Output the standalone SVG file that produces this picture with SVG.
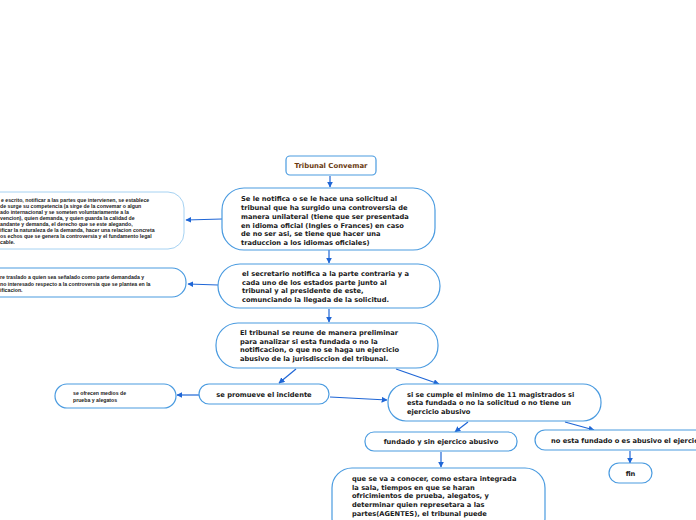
<svg xmlns="http://www.w3.org/2000/svg" width="696" height="520" viewBox="0 0 696 520">
<defs>
<marker id="ah" viewBox="0 0 10 10" refX="9" refY="5" markerWidth="5" markerHeight="5" orient="auto"><path d="M0,0 L10,5 L0,10 z" fill="#1f66d6"/></marker>
<style>
.n{fill:#fff;stroke:#4a9be0;stroke-width:1.2}
.nl{fill:#fff;stroke:#a6d2f2;stroke-width:1}
.t{font-family:"DejaVu Sans",Verdana,sans-serif;font-weight:bold;font-size:6.7px;fill:#1a1a1a}
.s{font-family:"Liberation Sans",Arial,sans-serif;font-weight:bold;font-size:5.2px;fill:#1a1a1a}
.c{fill:none;stroke:#1f66d6;stroke-width:1.2;marker-end:url(#ah)}
</style>
</defs>
<rect width="696" height="520" fill="#fff"/>
<g id="connectors">
<line class="c" x1="330" y1="176" x2="330" y2="187"/>
<line class="c" x1="222" y1="219" x2="186" y2="220"/>
<line class="c" x1="329" y1="250" x2="329" y2="263"/>
<line class="c" x1="218" y1="285" x2="188" y2="284"/>
<line class="c" x1="329" y1="309" x2="329" y2="322"/>
<line class="c" x1="296" y1="369" x2="279" y2="383"/>
<line class="c" x1="396" y1="369" x2="439" y2="384"/>
<line class="c" x1="199" y1="395" x2="177" y2="395"/>
<line class="c" x1="330" y1="397" x2="387" y2="400"/>
<line class="c" x1="468" y1="422" x2="455" y2="432"/>
<line class="c" x1="565" y1="422" x2="594" y2="430"/>
<line class="c" x1="630" y1="451" x2="630" y2="463"/>
<line class="c" x1="441" y1="452" x2="441" y2="467"/>
</g>
<g id="n1">
<rect class="n" x="286" y="156" width="90" height="19" rx="4"/>
<text x="331" y="168" text-anchor="middle" style="font-family:'DejaVu Sans',sans-serif;font-weight:bold;font-size:6.9px;fill:#6b3b12">Tribunal Convemar</text>
</g>
<g id="n2">
<rect class="n" x="222" y="188" width="213" height="62" rx="22"/>
<text class="t"><tspan x="241" y="201">Se le notifica o se le hace una solicitud al</tspan><tspan x="241" y="210">tribunal que ha surgido una controversia de</tspan><tspan x="241" y="218.8">manera unilateral (tiene que ser presentada</tspan><tspan x="241" y="227.6">en idioma oficial (Ingles o Frances) en caso</tspan><tspan x="241" y="236.4">de no ser asi, se tiene que hacer una</tspan><tspan x="241" y="245.2">traduccion a los idiomas oficiales)</tspan></text>
</g>
<g id="n3">
<rect class="nl" x="-30" y="192" width="214" height="57" rx="16"/>
<text class="s"><tspan x="1" y="202">e escrito, notificar a las partes que intervienen, se establece</tspan><tspan x="0" y="208">de surge su competencia (a sirge de la convemar o algun</tspan><tspan x="0" y="214">ado internacional y se someten voluntariamente a la</tspan><tspan x="0" y="220">vencion), quien demanda, y quien guarda la calidad de</tspan><tspan x="0" y="226">andante y demanda, el derecho que se este alegando,</tspan><tspan x="0" y="232">ificar la naturaleza de la demanda, hacer una relacion concreta</tspan><tspan x="0" y="238">os echos que se genera la controversia y el fundamento legal</tspan><tspan x="0" y="244">cable.</tspan></text>
</g>
<g id="n4">
<rect class="n" x="218" y="264" width="222" height="44" rx="22"/>
<text class="t"><tspan x="242" y="276">el secretario notifica a la parte contraria y a</tspan><tspan x="242" y="284.7">cada uno de los estados parte junto al</tspan><tspan x="242" y="293.4">tribunal y al presidente de este,</tspan><tspan x="242" y="302">comunciando la llegada de la solicitud.</tspan></text>
</g>
<g id="n5">
<rect class="n" x="-30" y="268" width="216" height="29" rx="14"/>
<text class="s"><tspan x="0" y="279">re traslado a quien sea señalado como parte demandada y</tspan><tspan x="0" y="285.5">no interesado respecto a la controversia que se plantea en la</tspan><tspan x="0" y="292">ificacion.</tspan></text>
</g>
<g id="n6">
<rect class="n" x="216" y="323" width="222" height="45" rx="22"/>
<text class="t"><tspan x="240" y="335">El tribunal se reune de manera preliminar</tspan><tspan x="240" y="343.7">para analizar si esta fundada o no la</tspan><tspan x="240" y="352.4">notificacion, o que no se haga un ejercicio</tspan><tspan x="240" y="361">abusivo de la jurisdisccion del tribunal.</tspan></text>
</g>
<g id="n7">
<rect class="n" x="199" y="384" width="130" height="20" rx="10"/>
<text class="t" x="264" y="396.5" text-anchor="middle">se promueve el incidente</text>
</g>
<g id="n8">
<rect class="n" x="55" y="384" width="121" height="24" rx="12"/>
<text class="s"><tspan x="73" y="394.5">se ofrecen medios de</tspan><tspan x="73" y="401.5">prueba y alegatos</tspan></text>
</g>
<g id="n9">
<rect class="n" x="388" y="384" width="213" height="37" rx="18"/>
<text class="t"><tspan x="407" y="396.5">si se cumple el minimo de 11 magistrados si</tspan><tspan x="407" y="405">esta fundada o no la solicitud o no tiene un</tspan><tspan x="407" y="413.5">ejercicio abusivo</tspan></text>
</g>
<g id="n10">
<rect class="n" x="365" y="432" width="152" height="19" rx="9"/>
<text class="t" x="441" y="444" text-anchor="middle">fundado y sin ejercico abusivo</text>
</g>
<g id="n11">
<rect class="n" x="535" y="430" width="190" height="20" rx="10"/>
<text class="t" x="551" y="442.5">no esta fundado o es abusivo el ejercicio</text>
</g>
<g id="n12">
<rect class="n" x="609" y="463" width="43" height="20" rx="10"/>
<text class="t" x="630.5" y="475.5" text-anchor="middle">fin</text>
</g>
<g id="n13">
<rect class="n" x="332" y="468" width="213" height="70" rx="20"/>
<text class="t"><tspan x="352" y="481">que se va a conocer, como estara integrada</tspan><tspan x="352" y="489.7">la sala, tiempos en que se haran</tspan><tspan x="352" y="498.4">ofricimientos de prueba, alegatos, y</tspan><tspan x="352" y="507.1">determinar quien represetara a las</tspan><tspan x="352" y="515.8">partes(AGENTES), el tribunal puede</tspan><tspan x="352" y="524.5">resolver medidas provisionales</tspan></text>
</g>
</svg>
